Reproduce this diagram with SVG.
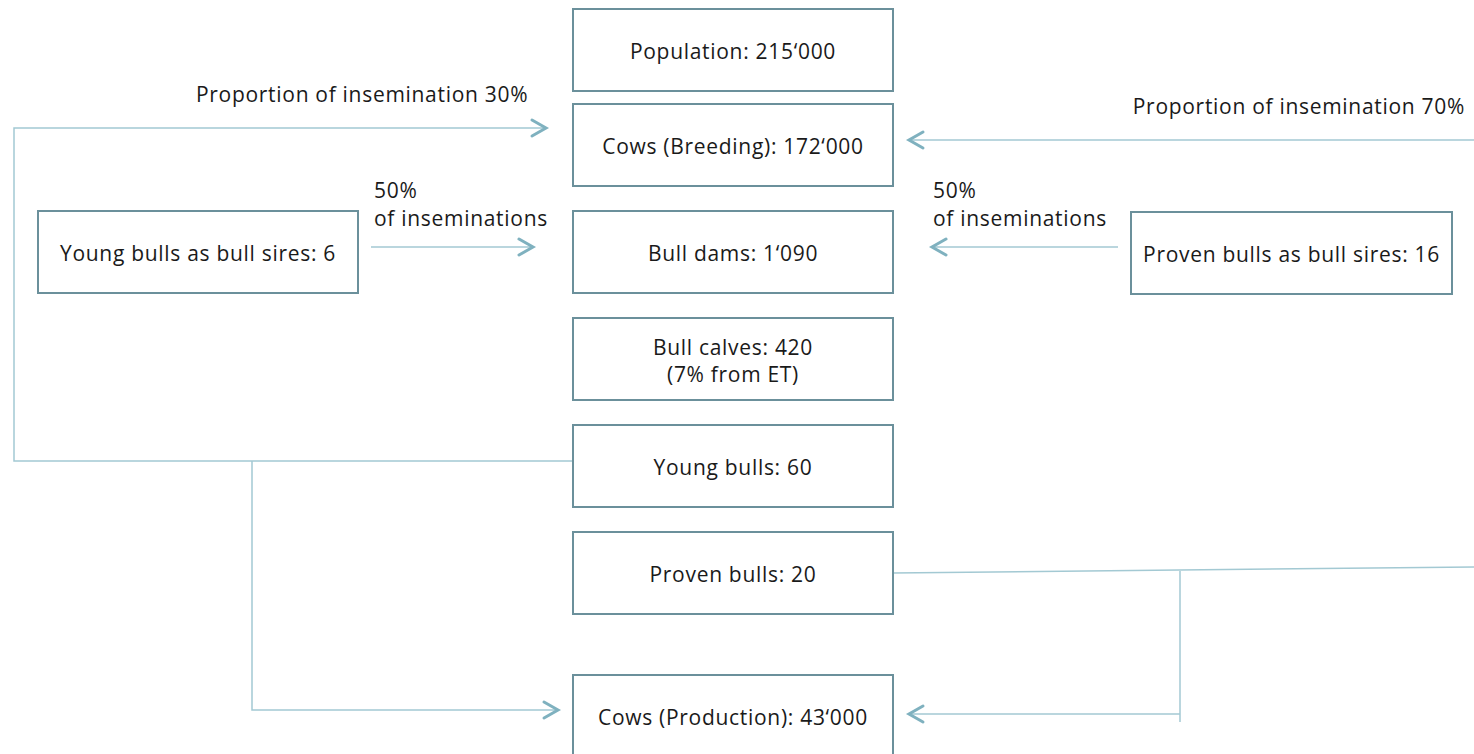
<svg xmlns="http://www.w3.org/2000/svg" width="1474" height="754" viewBox="0 0 1474 754">
<defs>
<style>
.box{fill:#fff;stroke:#6b909b;stroke-width:2}
.t{font-family:"Open Sans",Lato,sans-serif;font-size:21px;letter-spacing:0.7px;fill:#1a1a1a}
.c{text-anchor:middle}
.ln{fill:none;stroke:#a3c9d3;stroke-width:1.5}
.ah{fill:none;stroke:#7fb1bf;stroke-width:3;stroke-linecap:round;stroke-linejoin:miter}
</style>
</defs>
<rect width="1474" height="754" fill="#fff"/>
<g id="connectors">
<path class="ln" d="M573,461 H14 V128 H546"/>
<path class="ah" d="M532,120 L546,128 L532,136"/>
<path class="ln" d="M252,461 V710 H558"/>
<path class="ah" d="M544,702 L558,710 L544,718"/>
<path class="ln" d="M371,247 H533"/>
<path class="ah" d="M519,239 L533,247 L519,255"/>
<path class="ln" d="M1118,247 H932"/>
<path class="ah" d="M946,239 L932,247 L946,255"/>
<path class="ln" d="M1474,140 H909"/>
<path class="ah" d="M923,132 L909,140 L923,148"/>
<path class="ln" d="M893,573 L1474,567"/>
<path class="ln" d="M1180,571 V722"/>
<path class="ln" d="M1180,714 H909"/>
<path class="ah" d="M923,706 L909,714 L923,722"/>
</g>
<g id="labels">
<text class="t" x="196" y="102">Proportion of insemination 30%</text>
<text class="t" x="1465" y="114" text-anchor="end">Proportion of insemination 70%</text>
<text class="t" x="374" y="198">50%</text>
<text class="t" x="374" y="226">of inseminations</text>
<text class="t" x="933" y="198">50%</text>
<text class="t" x="933" y="226">of inseminations</text>
</g>
<g id="population"><rect class="box" x="573" y="9" width="320" height="82"/><text class="t c" x="733" y="59">Population: 215‘000</text></g>
<g id="cows-breeding"><rect class="box" x="573" y="104" width="320" height="82"/><text class="t c" x="733" y="154">Cows (Breeding): 172‘000</text></g>
<g id="bull-dams"><rect class="box" x="573" y="211" width="320" height="82"/><text class="t c" x="733" y="261">Bull dams: 1‘090</text></g>
<g id="bull-calves"><rect class="box" x="573" y="318" width="320" height="82"/><text class="t c" x="733" y="355">Bull calves: 420</text><text class="t c" x="733" y="382">(7% from ET)</text></g>
<g id="young-bulls"><rect class="box" x="573" y="425" width="320" height="82"/><text class="t c" x="733" y="475">Young bulls: 60</text></g>
<g id="proven-bulls"><rect class="box" x="573" y="532" width="320" height="82"/><text class="t c" x="733" y="582">Proven bulls: 20</text></g>
<g id="cows-production"><rect class="box" x="573" y="675" width="320" height="82"/><text class="t c" x="733" y="725">Cows (Production): 43‘000</text></g>
<g id="young-sires"><rect class="box" x="38" y="211" width="320" height="82"/><text class="t c" x="198" y="261">Young bulls as bull sires: 6</text></g>
<g id="proven-sires"><rect class="box" x="1131" y="212" width="321" height="82"/><text class="t c" x="1291.5" y="262">Proven bulls as bull sires: 16</text></g>
</svg>
